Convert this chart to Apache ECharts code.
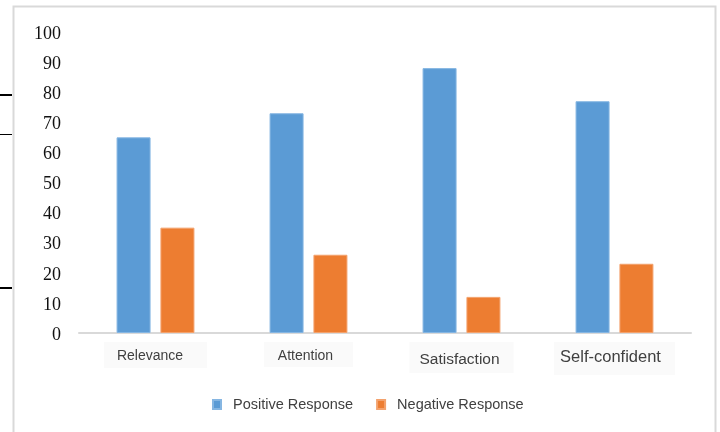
<!DOCTYPE html>
<html>
<head>
<meta charset="utf-8">
<script src="https://cdn.jsdelivr.net/npm/echarts@6/dist/echarts.min.js"></script>
<style>
  html, body { margin: 0; padding: 0; background: #fff; }
  #chart { width: 720px; height: 432px; }
</style>
</head>
<body>
<div id="chart"></div>
<script>
// Survey categories and the share of responses (%) in each
const categories = ['Relevance', 'Attention', 'Satisfaction', 'Self-confident'];
const positiveResponse = [65, 73, 88, 77];
const negativeResponse = [35, 26, 12, 23];
const seriesNames = ['Positive Response', 'Negative Response'];

// per-label text styling for the category axis (size / vertical placement)
const labelStyles = [
  { fontSize: 14, lineHeight: 14, padding: [7, 24, 5, 13] },
  { fontSize: 14, lineHeight: 14, padding: [7, 20, 4, 14] },
  { fontSize: 15.5, lineHeight: 16, padding: [10, 14, 5, 10] },
  { fontSize: 16.5, lineHeight: 17, padding: [7, 14, 9, 6] }
];

const chart = echarts.init(document.getElementById('chart'), null, { renderer: 'canvas' });

chart.setOption({
  backgroundColor: '#ffffff',
  animation: false,
  grid: { left: 79, right: 29, top: 32, bottom: 99, containLabel: false },
  legend: {
    data: seriesNames,
    left: 207,
    top: 392,
    itemWidth: 8,
    itemHeight: 9,
    itemGap: 23,
    icon: 'rect',
    textStyle: {
      fontFamily: 'Liberation Sans',
      fontSize: 14.5,
      color: '#404040',
      padding: [0, 0, 0, 7]
    }
  },
  xAxis: {
    type: 'category',
    data: categories.map((c, i) => ({
      value: c,
      textStyle: Object.assign({ backgroundColor: '#fafafa' }, labelStyles[i])
    })),
    axisLine: { show: true, lineStyle: { color: '#d9d9d9', width: 2 } },
    axisTick: { show: false },
    axisLabel: {
      margin: 9,
      interval: 0,
      fontFamily: 'Liberation Sans',
      color: '#404040'
    }
  },
  yAxis: {
    type: 'value',
    min: 0,
    max: 100,
    interval: 10,
    splitLine: { show: false },
    axisLine: { show: false },
    axisTick: { show: false },
    axisLabel: {
      margin: 18,
      formatter: '{v|{value}}',
      rich: {
        v: {
          fontFamily: 'Liberation Serif',
          fontSize: 18,
          color: '#111111',
          padding: [4, 0, 0, 0]
        }
      }
    }
  },
  series: [
    {
      name: seriesNames[0],
      type: 'bar',
      data: positiveResponse,
      barWidth: 34,
      barGap: '29%',
      itemStyle: { color: '#5B9BD5', borderColor: '#86b6e2', borderWidth: 1 }
    },
    {
      name: seriesNames[1],
      type: 'bar',
      data: negativeResponse,
      barWidth: 34,
      itemStyle: { color: '#ED7D31', borderColor: '#f3a26d', borderWidth: 1 }
    }
  ],
  graphic: [
    // outer frame
    {
      type: 'rect',
      shape: { x: 13.5, y: 6.5, width: 702, height: 440 },
      style: { fill: 'none', stroke: '#d9d9d9', lineWidth: 2 },
      silent: true
    },
    // rule marks at the left margin
    { type: 'line', shape: { x1: 0, y1: 95, x2: 12, y2: 95 }, style: { stroke: '#000', lineWidth: 2 } },
    { type: 'line', shape: { x1: 0, y1: 134.5, x2: 12, y2: 134.5 }, style: { stroke: '#000', lineWidth: 1 } },
    { type: 'line', shape: { x1: 0, y1: 288, x2: 12, y2: 288 }, style: { stroke: '#000', lineWidth: 2 } }
  ]
});
</script>
</body>
</html>
